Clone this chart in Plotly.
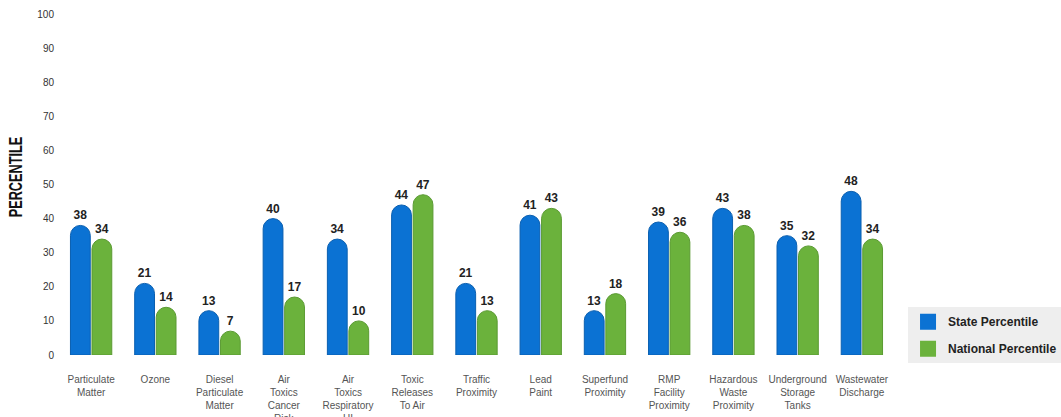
import plotly.graph_objects as go

categories = [
    "Particulate<br>Matter", "Ozone", "Diesel<br>Particulate<br>Matter",
    "Air<br>Toxics<br>Cancer<br>Risk", "Air<br>Toxics<br>Respiratory<br>HI",
    "Toxic<br>Releases<br>To Air", "Traffic<br>Proximity", "Lead<br>Paint",
    "Superfund<br>Proximity", "RMP<br>Facility<br>Proximity",
    "Hazardous<br>Waste<br>Proximity", "Underground<br>Storage<br>Tanks",
    "Wastewater<br>Discharge",
]
state_pct = [38, 21, 13, 40, 34, 44, 21, 41, 13, 39, 43, 35, 48]
national_pct = [34, 14, 7, 17, 10, 47, 13, 43, 18, 36, 38, 32, 34]
y_ticks = [0, 10, 20, 30, 40, 50, 60, 70, 80, 90, 100]

BLUE = "#0b72d3"
GREEN = "#6bb23c"
LABEL_FONT = dict(family="Arial, Liberation Sans", size=12, color="#222", weight="bold")

fig = go.Figure()
fig.add_trace(go.Bar(
    x=categories, y=state_pct, name="State Percentile",
    marker=dict(color=BLUE, line=dict(color="#0a5fb0", width=1), cornerradius=10),
    text=state_pct, textposition="outside", textfont=LABEL_FONT,
    cliponaxis=False, showlegend=False,
))
fig.add_trace(go.Bar(
    x=categories, y=national_pct, name="National Percentile",
    marker=dict(color=GREEN, line=dict(color="#5a9a32", width=1), cornerradius=10),
    text=national_pct, textposition="outside", textfont=LABEL_FONT,
    cliponaxis=False, showlegend=False,
))
# legend entries
fig.add_trace(go.Scatter(x=[None], y=[None], mode="markers", name="State Percentile",
                         legendgroup="a",
                         marker=dict(symbol="square", size=16, color=BLUE)))
fig.add_trace(go.Scatter(x=[None], y=[None], mode="markers", name="National Percentile",
                         legendgroup="b",
                         marker=dict(symbol="square", size=16, color=GREEN)))

fig.update_layout(
    width=1061, height=417,
    margin=dict(l=59, r=167, t=14, b=62, autoexpand=False),
    paper_bgcolor="white", plot_bgcolor="white",
    barmode="group", bargap=0.33, bargroupgap=0.08,
    font=dict(family="Arial, Liberation Sans", color="#333"),
    legend=dict(
        x=1.0168, y=0.14, xanchor="left", yanchor="top",
        bgcolor="#eeeeee", tracegroupgap=8,
        font=dict(family="Arial, Liberation Sans", size=12, color="#222", weight="bold"),
        itemsizing="trace",
    ),
    annotations=[dict(
        text="PERCENTILE", textangle=-90, showarrow=False,
        xref="paper", yref="paper", x=-0.052, y=0.52, xanchor="center", yanchor="middle",
        font=dict(family="Arial, Liberation Sans",
                  size=19, color="#111", weight="bold"),
    )],
)
fig.update_xaxes(
    automargin=False,
    showline=False, showgrid=False, ticks="", tickfont=dict(size=10, color="#555"),
    ticklabelstandoff=17, tickangle=0,
)
fig.update_yaxes(
    automargin=False,
    range=[0, 100], tickvals=y_ticks, showgrid=False, zeroline=False, showline=False,
    tickfont=dict(size=10, color="#333"), ticklabelstandoff=4,
)

post = (
    "document.body.style.margin='0';"
    "document.querySelectorAll('.annotation-text').forEach(function(e){"
    "e.style.transformBox='fill-box';e.style.transformOrigin='center';"
    "e.style.transform='scaleX(0.67)';});"
)
fig.write_html("out.html", post_script=post, config={"displayModeBar": False})
